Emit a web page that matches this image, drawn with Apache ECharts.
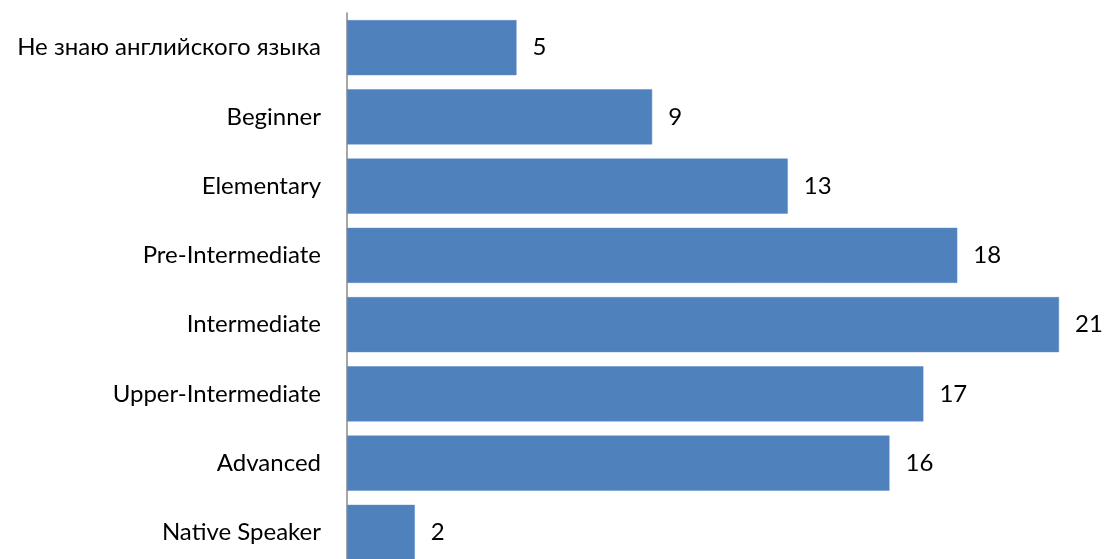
<!DOCTYPE html>
<html>
<head>
<meta charset="utf-8">
<script src="https://cdn.jsdelivr.net/npm/echarts@6/dist/echarts.min.js"></script>
<style>
html,body{margin:0;padding:0;background:#fff;overflow:hidden;}
#chart{width:1107px;height:567px;}
</style>
</head>
<body>
<div id="chart"></div>
<script>
const categories = ["Не знаю английского языка","Beginner","Elementary","Pre-Intermediate","Intermediate","Upper-Intermediate","Advanced","Native Speaker"];
const values = [5, 9, 13, 18, 21, 17, 16, 2];

const chart = echarts.init(document.getElementById('chart'));
chart.setOption({
  animation: false,
  grid: {left: 347, right: 48, top: 13, bottom: 0, containLabel: false},
  xAxis: {type: 'value', min: 0, max: 21, show: false},
  yAxis: {
    type: 'category', data: categories, inverse: true,
    axisLine: {show: true, lineStyle: {color: '#888888', width: 1.5}},
    axisTick: {show: false},
    axisLabel: {margin: 26, color: '#000', fontSize: 24, fontFamily: 'Lato'}
  },
  series: [{
    type: 'bar', data: values, barCategoryGap: '20.5%',
    itemStyle: {color: '#4F81BD', borderColor: '#5B8BC4', borderWidth: 0.5},
    label: {show: true, position: 'right', distance: 16, color: '#000', fontSize: 24, fontFamily: 'Lato'}
  }]
});
</script>
</body>
</html>
